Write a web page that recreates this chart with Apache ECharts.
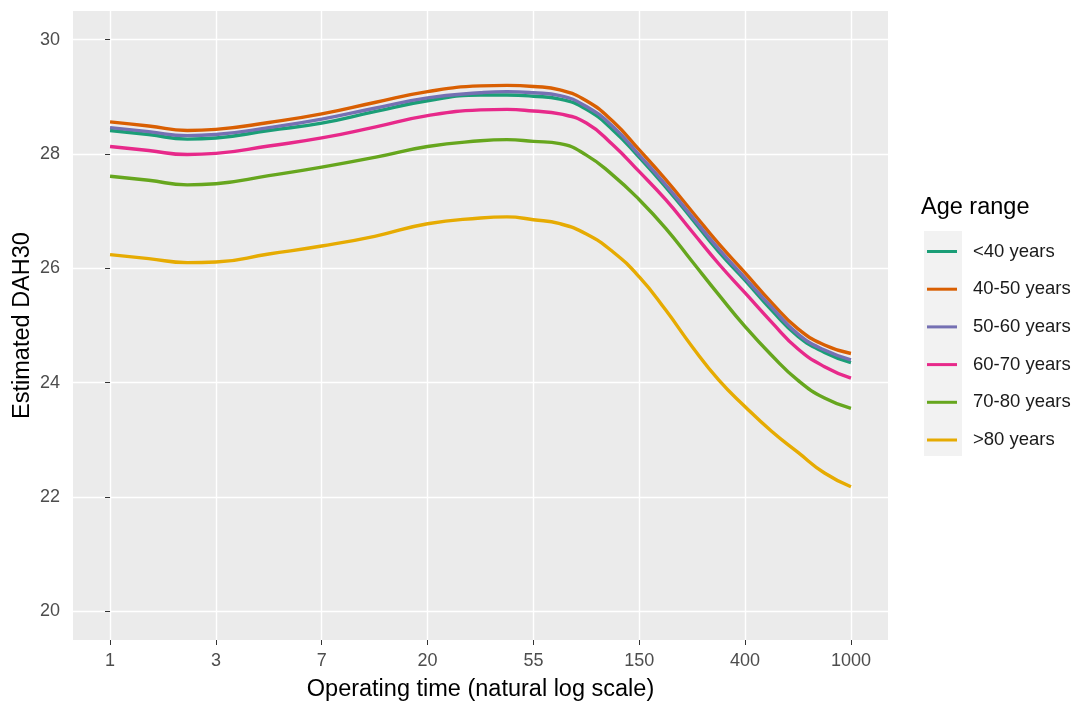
<!DOCTYPE html>
<html>
<head>
<meta charset="utf-8">
<script src="https://cdn.jsdelivr.net/npm/echarts@6/dist/echarts.min.js"></script>
<style>
html,body{margin:0;padding:0;background:#fff;}
#chart{width:1080px;height:706px;}
</style>
</head>
<body>
<div id="chart"></div>
<script>
// natural log of operating time
const lnTime   = [0, 0.365, 0.73, 1, 1.5, 2, 2.5, 3, 3.5, 3.75, 4, 4.25, 4.5, 4.75, 5, 5.25, 5.5, 5.75, 6, 6.25, 6.5, 6.75, 7];
const ageLt40  = [28.41, 28.34, 28.26, 28.28, 28.41, 28.54, 28.74, 28.93, 29.03, 29.03, 29.01, 28.96, 28.78, 28.42, 27.94, 27.42, 26.86, 26.29, 25.79, 25.27, 24.81, 24.53, 24.35];
const age40_50 = [28.56, 28.49, 28.41, 28.43, 28.55, 28.70, 28.90, 29.09, 29.19, 29.20, 29.18, 29.12, 28.93, 28.57, 28.07, 27.55, 26.99, 26.43, 25.92, 25.40, 24.94, 24.66, 24.51];
const age50_60 = [28.46, 28.39, 28.32, 28.34, 28.46, 28.61, 28.80, 28.98, 29.07, 29.09, 29.07, 29.02, 28.83, 28.48, 27.98, 27.46, 26.90, 26.34, 25.83, 25.32, 24.85, 24.57, 24.40];
const age60_70 = [28.13, 28.06, 27.99, 28.01, 28.14, 28.28, 28.47, 28.67, 28.77, 28.78, 28.75, 28.70, 28.54, 28.16, 27.69, 27.20, 26.64, 26.08, 25.57, 25.06, 24.59, 24.28, 24.08];
const age70_80 = [27.61, 27.54, 27.46, 27.48, 27.62, 27.77, 27.94, 28.13, 28.23, 28.25, 28.22, 28.18, 27.98, 27.63, 27.20, 26.70, 26.12, 25.54, 24.98, 24.48, 24.04, 23.73, 23.55];
const ageGt80  = [26.24, 26.17, 26.10, 26.11, 26.25, 26.39, 26.56, 26.78, 26.88, 26.90, 26.85, 26.78, 26.60, 26.29, 25.85, 25.27, 24.63, 24.05, 23.58, 23.15, 22.78, 22.42, 22.18];

const seriesNames = ['<40 years', '40-50 years', '50-60 years', '60-70 years', '70-80 years', '>80 years'];
const seriesValues = [ageLt40, age40_50, age50_60, age60_70, age70_80, ageGt80];
const colors = ['#1B9E77', '#D95F02', '#7570B3', '#E7298A', '#66A61E', '#E6AB02'];

const xTickValues = [0, 1, 2, 3, 4, 5, 6, 7];
const xTickLabels = ['1', '3', '7', '20', '55', '150', '400', '1000'];
const yTickValues = [20, 22, 24, 26, 28, 30];

const chart = echarts.init(document.getElementById('chart'), null, {renderer: 'canvas'});

const series = seriesNames.map((name, i) => ({
  name: name,
  type: 'line',
  data: lnTime.map((x, j) => [x, seriesValues[i][j]]),
  showSymbol: false,
  smooth: 0.5,
  lineStyle: {width: 3.4, color: colors[i]},
  itemStyle: {color: colors[i]},
  z: 2 + i
}));

chart.setOption({
  animation: false,
  color: colors,
  grid: {left: 73, right: 192, top: 11, bottom: 66, containLabel: false, outerBoundsMode: 'none',
         show: true, backgroundColor: '#EBEBEB', borderWidth: 0},
  title: {
    text: 'Age range',
    left: 921, top: 196, padding: 0,
    textStyle: {fontFamily: 'Liberation Sans', fontSize: 23.5, fontWeight: 'normal', color: '#000'}
  },
  graphic: [{
    type: 'rect', left: 924, top: 231, z: -1,
    shape: {width: 38, height: 225},
    style: {fill: '#F2F2F2'}
  }],
  legend: {
    orient: 'vertical',
    left: 927, top: 242, padding: 0,
    itemWidth: 30, itemHeight: 14, itemGap: 18.7,
    data: seriesNames.map(n => ({name: n, icon: 'path://M0,5.5 L30,5.5 L30,8.5 L0,8.5 Z'})),
    textStyle: {fontFamily: 'Liberation Sans', fontSize: 18.5, color: '#1A1A1A', padding: [0, 0, 0, 11]}
  },
  xAxis: {
    type: 'value',
    min: -0.35, max: 7.35,
    name: 'Operating time (natural log scale)',
    nameLocation: 'middle', nameGap: 38,
    nameTextStyle: {fontFamily: 'Liberation Sans', fontSize: 23.5, color: '#000'},
    axisLine: {show: false},
    axisTick: {show: true, length: 5, customValues: xTickValues, lineStyle: {color: '#333', width: 1}},
    axisLabel: {customValues: xTickValues, formatter: v => xTickLabels[xTickValues.indexOf(Math.round(v))],
                fontFamily: 'Liberation Sans', fontSize: 18, color: '#4D4D4D', margin: 12},
    splitLine: {show: true, lineStyle: {color: '#FFFFFF', width: 1.4}}
  },
  yAxis: {
    type: 'value',
    min: 19.5, max: 30.5,
    name: 'Estimated DAH30',
    nameLocation: 'middle', nameGap: 38, nameMoveOverlap: false,
    nameTextStyle: {fontFamily: 'Liberation Sans', fontSize: 23.5, color: '#000'},
    axisLine: {show: false},
    axisTick: {show: true, length: 5, customValues: yTickValues, lineStyle: {color: '#333', width: 1}},
    axisLabel: {customValues: yTickValues, fontFamily: 'Liberation Sans', fontSize: 18, color: '#4D4D4D', margin: 13},
    splitLine: {show: true, lineStyle: {color: '#FFFFFF', width: 1.4}}
  },
  series: series
});
</script>
</body>
</html>
